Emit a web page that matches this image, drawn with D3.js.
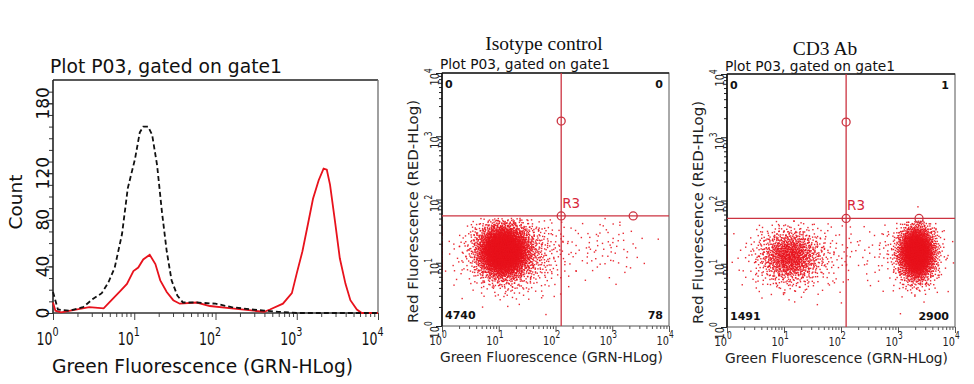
<!DOCTYPE html>
<html><head><meta charset="utf-8">
<script src="https://cdn.jsdelivr.net/npm/d3@7"></script>
<style>body{margin:0;background:#fff}svg{display:block}</style>
</head><body>
<svg id="c" width="974" height="384"></svg>
<script>
// ---------- Histogram data (GRN-HLog intensity, event count) ----------
const isoGreen = [1, 1.15, 1.62, 2.34, 3.09, 3.98, 4.79, 5.75, 7.08, 8.32, 10.2, 11.7, 12.9, 14.8, 16.6, 19.1, 21.9, 25.1, 28.8, 33.9, 39.8, 58.9, 100, 158, 282, 398, 600, 1000, 10000];
const isoCount = [18, 3, 2, 5, 12, 17, 26, 39, 68, 107, 132, 155, 160, 160, 153, 127, 87, 53, 28, 15, 9, 9, 8, 5, 3, 2, 1, 0, 0];
const cd3Green = [1, 1.07, 1.26, 2.8, 4.2, 5.25, 6.76, 8.13, 9.77, 11.2, 12.9, 15.5, 18.2, 20.9, 25.1, 30.2, 36.3, 58.9, 85, 158, 398, 468, 676, 871, 1000, 1175, 1380, 1585, 1862, 2138, 2344, 2570, 2951, 3388, 3981, 4571, 5495, 6310, 10000];
const cd3Count = [9, 2, 0.5, 5, 4, 11, 19, 25, 36, 39, 46, 50, 42, 28, 18, 11, 8, 9, 6, 4, 1, 3, 8, 17, 34, 53, 77, 98, 114, 124, 123, 110, 79, 47, 25, 11, 3, 0, 0];
const histCountTicks = [0, 40, 80, 120, 180];
const decadeExps = [0, 1, 2, 3, 4];

// ---------- Dot plot data ----------
const quadNames = ["UL", "UR", "LL", "LR"];
const isoQuadCounts = [0, 0, 4740, 78];
const cd3QuadCounts = [0, 1, 1491, 2900];
// gate (quadrant marker) positions: [GRN, RED] intensities
const isoGate = [126, 55];
const cd3Gate = [123, 52];
// populations: [events, meanLogGRN, sdLogGRN, meanLogRED, sdLogRED]
const isoPops = [
  [3700, 1.08, 0.22, 1.18, 0.20],
  [920, 1.25, 0.42, 1.15, 0.30],
  [60, 0, 0, 1.15, 0.28],
  [78, 2.85, 0.38, 1.25, 0.25]
];
const cd3Pops = [
  [1000, 1.10, 0.25, 1.12, 0.20],
  [400, 1.20, 0.45, 1.10, 0.28],
  [91, 0, 0, 1.15, 0.20],
  [2700, 3.33, 0.16, 1.17, 0.21],
  [160, 3.30, 0.30, 1.10, 0.30],
  [40, 2.50, 0.30, 1.20, 0.28],
  [1, 3.35, 0, 1.90, 0]
];

const F = "'DejaVu Sans', Verdana, sans-serif";
const RED = "#e8121c";
const svg = d3.select("#c");
svg.append("rect").attr("width", 974).attr("height", 384).attr("fill", "#fff");

function minorLogTicks() {
  const t = [];
  for (let d = 0; d < 4; d++) for (let m = 2; m <= 9; m++) t.push(m * Math.pow(10, d));
  return t;
}
function styleAxis(g, color) {
  g.select(".domain").remove();
  g.selectAll(".tick line").attr("stroke", color);
}
// "10" with superscript exponent as ONE text; the "10" ends at the anchor point
function powLabel(g, transform, exp, base, sup, raise, sx, color) {
  const w = 1.272 * base; // DejaVu digit advance 0.636em
  const t = g.append("text").attr("transform", transform + ` scale(${sx},1)`)
    .attr("x", -w).attr("y", 0).attr("font-family", F).attr("fill", color);
  t.append("tspan").attr("font-size", base).text("10");
  t.append("tspan").attr("font-size", sup).attr("dy", -raise).text(exp);
}

// ================= LEFT: histogram =================
(function () {
  const L = 53, R = 378, T = 80, B = 313;
  const x = d3.scaleLog().domain([1, 1e4]).range([L, R]);
  const y = d3.scaleLinear().domain([0, 200]).range([B, T]);
  const g = svg.append("g");

  g.append("text").attr("x", 50).attr("y", 73).attr("font-family", F).attr("font-size", 18.7)
    .attr("textLength", 232).attr("lengthAdjust", "spacingAndGlyphs").attr("fill", "#111")
    .text("Plot P03, gated on gate1");

  g.append("line").attr("x1", L).attr("x2", R).attr("y1", T).attr("y2", T).attr("stroke", "#222").attr("stroke-width", 1.6);
  g.append("line").attr("x1", R).attr("x2", R).attr("y1", T).attr("y2", B).attr("stroke", "#777").attr("stroke-width", 1.4);

  const yMinor = [];
  for (let v = 0; v < 200; v += 10) yMinor.push(v);
  g.append("g").attr("transform", `translate(${L},0)`)
    .call(d3.axisLeft(y).tickValues(yMinor).tickSize(4).tickFormat(""))
    .call(a => styleAxis(a, "#333"));
  g.append("g").attr("transform", `translate(${L},0)`)
    .call(d3.axisLeft(y).tickValues(histCountTicks).tickSize(7).tickFormat(""))
    .call(a => styleAxis(a, "#333"));
  g.append("line").attr("x1", L).attr("x2", L).attr("y1", T).attr("y2", B).attr("stroke", "#222").attr("stroke-width", 1.6);
  histCountTicks.forEach(v => {
    g.append("text").attr("transform", `translate(49,${y(v)}) rotate(-90)`)
      .attr("text-anchor", "middle").attr("font-family", F).attr("font-size", 17).attr("fill", "#111")
      .text(v);
  });
  g.append("text").attr("transform", `translate(22,202) rotate(-90)`)
    .attr("text-anchor", "middle").attr("font-family", F).attr("font-size", 18.5).attr("fill", "#111")
    .text("Count");

  g.append("g").attr("transform", `translate(0,${B})`)
    .call(d3.axisBottom(x).tickValues(minorLogTicks()).tickSize(4).tickFormat(""))
    .call(a => styleAxis(a, "#444"));
  g.append("g").attr("transform", `translate(0,${B})`)
    .call(d3.axisBottom(x).tickValues(decadeExps.map(e => Math.pow(10, e))).tickSize(7).tickFormat(""))
    .call(a => styleAxis(a, "#444"));
  g.append("line").attr("x1", L).attr("x2", R).attr("y1", B).attr("y2", B).attr("stroke", "#333").attr("stroke-width", 1.4);
  decadeExps.forEach(e => {
    powLabel(g, `translate(${x(Math.pow(10, e)) - 0.5},345)`, e, 17, 13, 9, 0.74, "#111");
  });
  g.append("text").attr("x", 52).attr("y", 373).attr("font-family", F).attr("font-size", 18.6)
    .attr("textLength", 301).attr("lengthAdjust", "spacingAndGlyphs").attr("fill", "#111")
    .text("Green Fluorescence (GRN-HLog)");

  const line = d3.line().x(d => x(d[0])).y(d => y(d[1]));
  g.append("path").datum(cd3Green.map((v, i) => [v, cd3Count[i]]))
    .attr("d", line).attr("fill", "none").attr("stroke", RED).attr("stroke-width", 1.8);
  g.append("path").datum(isoGreen.map((v, i) => [v, isoCount[i]]))
    .attr("d", line).attr("fill", "none").attr("stroke", "#111").attr("stroke-width", 1.8)
    .attr("stroke-dasharray", "5,3");
})();

// ================= dot plots =================
function halton(i, b) { let f = 1, r = 0; while (i > 0) { f /= b; r += f * (i % b); i = Math.floor(i / b); } return r; }

function dotPlot(cfg) {
  const { L, R, T, B, title, titleX, titleY, subY, xTitleY, yTitleX, counts, gate, pops, idx } = cfg;
  const x = d3.scaleLog().domain([1, 1e4]).range([L, R]);
  const y = d3.scaleLog().domain([1, 1e4]).range([B, T]);
  const g = svg.append("g");

  g.append("text").attr("x", titleX).attr("y", titleY).attr("text-anchor", "middle")
    .attr("font-family", "'Liberation Serif', 'Times New Roman', serif").attr("font-size", 19.5)
    .attr("fill", "#111").text(title);
  g.append("text").attr("x", L - 2).attr("y", subY).attr("font-family", F).attr("font-size", 13.7)
    .attr("textLength", 170).attr("lengthAdjust", "spacingAndGlyphs").attr("fill", "#111")
    .text("Plot P03, gated on gate1");

  g.append("rect").attr("x", L).attr("y", T).attr("width", R - L).attr("height", B - T)
    .attr("fill", "#fff").attr("stroke", "#555").attr("stroke-width", 1);
  g.append("line").attr("x1", L).attr("x2", R).attr("y1", T).attr("y2", T).attr("stroke", "#222").attr("stroke-width", 1.3);

  const cid = "clip" + idx;
  g.append("clipPath").attr("id", cid).append("rect").attr("x", L).attr("y", T).attr("width", R - L).attr("height", B - T);
  const pts = [];
  const gy = Math.log10(gate[1]);
  let k = 11 + idx * 9000;
  pops.forEach(p => {
    const [n, mx, sx, my, sy] = p;
    let made = 0, guard = 0;
    while (made < n && guard < n * 4) {
      guard++; k++;
      const u1 = Math.max(halton(k, 2), 1e-6), u2 = halton(k, 3);
      const rad = Math.sqrt(-2 * Math.log(u1));
      const lx = mx + sx * rad * Math.cos(2 * Math.PI * u2);
      const ly = my + sy * rad * Math.sin(2 * Math.PI * u2);
      if ((my < gy && ly >= gy - 0.04) || (my > gy && ly <= gy + 0.04)) continue;
      pts.push([Math.pow(10, lx), Math.pow(10, ly)]);
      made++;
    }
  });
  g.append("g").attr("clip-path", `url(#${cid})`).selectAll("rect").data(pts).join("rect")
    .attr("x", d => x(d[0]) - 0.7).attr("y", d => y(d[1]) - 0.7)
    .attr("width", 1.4).attr("height", 1.4).attr("fill", RED).attr("opacity", 0.9);

  const minors = minorLogTicks();
  const majors = decadeExps.map(e => Math.pow(10, e));
  g.append("g").attr("transform", `translate(0,${B})`)
    .call(d3.axisBottom(x).tickValues(minors).tickSize(3).tickFormat("")).call(a => styleAxis(a, "#555"));
  g.append("g").attr("transform", `translate(0,${B})`)
    .call(d3.axisBottom(x).tickValues(majors).tickSize(6).tickFormat("")).call(a => styleAxis(a, "#555"));
  g.append("g").attr("transform", `translate(${L},0)`)
    .call(d3.axisLeft(y).tickValues(minors).tickSize(3).tickFormat("")).call(a => styleAxis(a, "#222"));
  g.append("g").attr("transform", `translate(${L},0)`)
    .call(d3.axisLeft(y).tickValues(majors).tickSize(6).tickFormat("")).call(a => styleAxis(a, "#222"));
  g.append("line").attr("x1", L).attr("x2", L).attr("y1", T).attr("y2", B).attr("stroke", "#111").attr("stroke-width", 1.6);

  decadeExps.forEach(e => {
    const px = x(Math.pow(10, e));
    powLabel(g, `translate(${px},${B + 19})`, e, 13, 10, 7, 0.75, "#222");
    const py = y(Math.pow(10, e));
    powLabel(g, `translate(${L - 3},${py}) rotate(-90)`, e, 13, 10, 7, 0.75, "#222");
  });

  g.append("text").attr("x", L - 2).attr("y", xTitleY).attr("font-family", F).attr("font-size", 13.7)
    .attr("textLength", 223).attr("lengthAdjust", "spacingAndGlyphs").attr("fill", "#222")
    .text("Green Fluorescence (GRN-HLog)");
  g.append("text").attr("transform", `translate(${yTitleX},${(T + B) / 2 + 12}) rotate(-90)`)
    .attr("text-anchor", "middle").attr("font-family", F).attr("font-size", 13.7)
    .attr("textLength", 223).attr("lengthAdjust", "spacingAndGlyphs").attr("fill", "#222")
    .text("Red Fluorescence (RED-HLog)");

  const QC = "#cc3340";
  const gx = x(gate[0]), gyp = y(gate[1]);
  g.append("line").attr("x1", gx).attr("x2", gx).attr("y1", T).attr("y2", B).attr("stroke", QC).attr("stroke-width", 1.3);
  g.append("line").attr("x1", L).attr("x2", R).attr("y1", gyp).attr("y2", gyp).attr("stroke", QC).attr("stroke-width", 1.3);
  [[gate[0], gate[1]], [gate[0], 1740], [2340, gate[1]]].forEach(h => {
    g.append("circle").attr("cx", x(h[0])).attr("cy", y(h[1])).attr("r", 4)
      .attr("fill", "none").attr("stroke", QC).attr("stroke-width", 1.3);
  });
  g.append("text").attr("x", gx + 1).attr("y", gyp - 8).attr("font-family", F).attr("font-size", 13.5)
    .attr("fill", "#d8283c").text("R3");

  const qf = { "font-family": F, "font-size": 11, "font-weight": "bold", "fill": "#111" };
  const put = (tx, ty, anchor, val) => {
    const t = g.append("text").attr("x", tx).attr("y", ty).attr("text-anchor", anchor).text(val);
    Object.entries(qf).forEach(([a, v]) => t.attr(a, v));
  };
  put(L + 3, T + 15, "start", counts[quadNames.indexOf("UL")]);
  put(R - 6, T + 15, "end", counts[quadNames.indexOf("UR")]);
  put(L + 3, B - 7, "start", counts[quadNames.indexOf("LL")]);
  put(R - 6, B - 7, "end", counts[quadNames.indexOf("LR")]);
}

dotPlot({ L: 442, R: 669, T: 73, B: 326, title: "Isotype control", titleX: 544, titleY: 50, subY: 69,
  xTitleY: 362, yTitleX: 418, counts: isoQuadCounts, gate: isoGate, pops: isoPops, idx: 0 });
dotPlot({ L: 727, R: 955, T: 74, B: 327, title: "CD3 Ab", titleX: 825, titleY: 55, subY: 71,
  xTitleY: 363, yTitleX: 703, counts: cd3QuadCounts, gate: cd3Gate, pops: cd3Pops, idx: 1 });
</script>
</body></html>
